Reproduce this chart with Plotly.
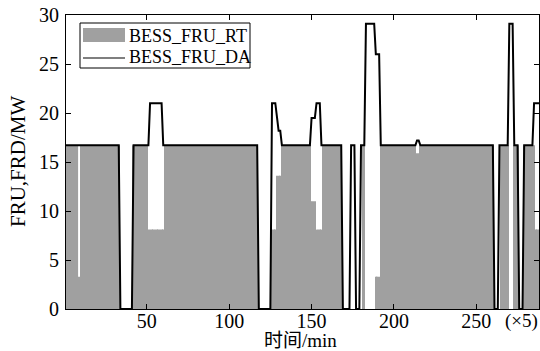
import plotly.graph_objects as go

# time index (5-min steps)
time_idx = list(range(1, 289))

# real-time FRU (bars), MW
fru_rt = [
    16.7, 16.7, 16.7, 16.7, 16.7, 16.7, 16.7, 16.7, 3.3, 16.7, 16.7, 16.7, 16.7, 16.7, 16.7, 16.7, 16.7, 16.7, 16.7, 16.7, 16.7, 16.7, 16.7, 16.7,
    16.7, 16.7, 16.7, 16.7, 16.7, 16.7, 16.7, 16.7, 16.7, 0, 0, 0, 0, 0, 0, 0, 0, 16.7, 16.7, 16.7, 16.7, 16.7, 16.7, 16.7,
    16.7, 16.7, 8.1, 8.1, 8.1, 8.1, 8.1, 8.1, 8.1, 8.1, 8.1, 8.1, 16.7, 16.7, 16.7, 16.7, 16.7, 16.7, 16.7, 16.7, 16.7, 16.7, 16.7, 16.7,
    16.7, 16.7, 16.7, 16.7, 16.7, 16.7, 16.7, 16.7, 16.7, 16.7, 16.7, 16.7, 16.7, 16.7, 16.7, 16.7, 16.7, 16.7, 16.7, 16.7, 16.7, 16.7, 16.7, 16.7,
    16.7, 16.7, 16.7, 16.7, 16.7, 16.7, 16.7, 16.7, 16.7, 16.7, 16.7, 16.7, 16.7, 16.7, 16.7, 16.7, 16.7, 16.7, 16.7, 16.7, 16.7, 0, 0, 0,
    0, 0, 0, 0, 0, 8.1, 8.1, 8.1, 13.6, 13.6, 13.6, 16.7, 16.7, 16.7, 16.7, 16.7, 16.7, 16.7, 16.7, 16.7, 16.7, 16.7, 16.7, 16.7,
    16.7, 16.7, 16.7, 16.7, 16.7, 11.0, 11.0, 11.0, 8.1, 8.1, 8.1, 8.1, 16.7, 16.7, 16.7, 16.7, 16.7, 16.7, 16.7, 16.7, 16.7, 16.7, 16.7, 16.7,
    0, 0, 0, 0, 0, 0, 0, 0, 0, 0, 0, 0, 16.7, 16.7, 0, 0, 0, 0, 0, 0, 3.3, 3.3, 3.3, 16.7,
    16.7, 16.7, 16.7, 16.7, 16.7, 16.7, 16.7, 16.7, 16.7, 16.7, 16.7, 16.7, 16.7, 16.7, 16.7, 16.7, 16.7, 16.7, 16.7, 16.7, 16.7, 15.9, 15.9, 16.7,
    16.7, 16.7, 16.7, 16.7, 16.7, 16.7, 16.7, 16.7, 16.7, 16.7, 16.7, 16.7, 16.7, 16.7, 16.7, 16.7, 16.7, 16.7, 16.7, 16.7, 16.7, 16.7, 16.7, 16.7,
    16.7, 16.7, 16.7, 16.7, 16.7, 16.7, 16.7, 16.7, 16.7, 16.7, 16.7, 16.7, 16.7, 16.7, 16.7, 16.7, 16.7, 16.7, 16.7, 16.7, 0, 0, 0, 0,
    16.7, 16.7, 16.7, 16.7, 16.7, 0, 0, 0, 16.7, 16.7, 16.7, 0, 0, 0, 16.7, 16.7, 16.7, 16.7, 16.7, 16.7, 16.7, 8.1, 8.1, 8.1,
]

# day-ahead FRU (line), MW
fru_da = [
    16.7, 16.7, 16.7, 16.7, 16.7, 16.7, 16.7, 16.7, 16.7, 16.7, 16.7, 16.7, 16.7, 16.7, 16.7, 16.7, 16.7, 16.7, 16.7, 16.7, 16.7, 16.7, 16.7, 16.7,
    16.7, 16.7, 16.7, 16.7, 16.7, 16.7, 16.7, 16.7, 16.7, 0, 0, 0, 0, 0, 0, 0, 0, 16.7, 16.7, 16.7, 16.7, 16.7, 16.7, 16.7,
    16.7, 16.7, 16.7, 21, 21, 21, 21, 21, 21, 21, 21, 16.7, 16.7, 16.7, 16.7, 16.7, 16.7, 16.7, 16.7, 16.7, 16.7, 16.7, 16.7, 16.7,
    16.7, 16.7, 16.7, 16.7, 16.7, 16.7, 16.7, 16.7, 16.7, 16.7, 16.7, 16.7, 16.7, 16.7, 16.7, 16.7, 16.7, 16.7, 16.7, 16.7, 16.7, 16.7, 16.7, 16.7,
    16.7, 16.7, 16.7, 16.7, 16.7, 16.7, 16.7, 16.7, 16.7, 16.7, 16.7, 16.7, 16.7, 16.7, 16.7, 16.7, 16.7, 16.7, 16.7, 16.7, 16.7, 0, 0, 0,
    0, 0, 0, 0, 0, 21, 21, 21, 19.6, 18.2, 18.2, 16.7, 16.7, 16.7, 16.7, 16.7, 16.7, 16.7, 16.7, 16.7, 16.7, 16.7, 16.7, 16.7,
    16.7, 16.7, 16.7, 16.7, 16.7, 19.5, 19.5, 19.5, 21, 21, 21, 16.7, 16.7, 16.7, 16.7, 16.7, 16.7, 16.7, 16.7, 16.7, 16.7, 16.7, 16.7, 16.7,
    0, 0, 0, 0, 0, 16.7, 16.7, 16.7, 0, 0, 0, 16.7, 16.7, 16.7, 29.1, 29.1, 29.1, 29.1, 29.1, 29.1, 26, 26, 26, 16.7,
    16.7, 16.7, 16.7, 16.7, 16.7, 16.7, 16.7, 16.7, 16.7, 16.7, 16.7, 16.7, 16.7, 16.7, 16.7, 16.7, 16.7, 16.7, 16.7, 16.7, 16.7, 17.2, 17.2, 16.7,
    16.7, 16.7, 16.7, 16.7, 16.7, 16.7, 16.7, 16.7, 16.7, 16.7, 16.7, 16.7, 16.7, 16.7, 16.7, 16.7, 16.7, 16.7, 16.7, 16.7, 16.7, 16.7, 16.7, 16.7,
    16.7, 16.7, 16.7, 16.7, 16.7, 16.7, 16.7, 16.7, 16.7, 16.7, 16.7, 16.7, 16.7, 16.7, 16.7, 16.7, 16.7, 16.7, 16.7, 16.7, 0, 0, 0, 16.7,
    16.7, 16.7, 16.7, 16.7, 16.7, 29.1, 29.1, 29.1, 16.7, 16.7, 16.7, 0, 0, 0, 16.7, 16.7, 16.7, 16.7, 16.7, 16.7, 21, 21, 21, 21,
]

x_ticks = [50, 100, 150, 200, 250]
y_ticks = [0, 5, 10, 15, 20, 25, 30]
legend_names = ["BESS_FRU_RT", "BESS_FRU_DA"]
x_title = "时间/min"
y_title = "FRU,FRD/MW"
x_unit_note = "(×5)"

BAR_COLOR = "#a0a0a0"
FONT = "Liberation Serif, Times New Roman, Noto Sans CJK SC, serif"

fig = go.Figure()
fig.add_trace(go.Bar(x=time_idx, y=fru_rt, marker=dict(color=BAR_COLOR, line=dict(width=0)),
                     name=legend_names[0], showlegend=False))
fig.add_trace(go.Scatter(x=time_idx, y=fru_da, mode="lines", line=dict(color="black", width=2),
                         name=legend_names[1], showlegend=False))

# plot area px: x 66..539, y 15..309
def px_x(px):
    return (px - 66) / 473.0

def px_y(py):
    return (309 - py) / 294.0

shapes = [
    dict(type="rect", xref="paper", yref="paper", x0=px_x(80), x1=px_x(250), y0=px_y(68), y1=px_y(23),
         line=dict(color="black", width=1), fillcolor="white", layer="above"),
    dict(type="rect", xref="paper", yref="paper", x0=px_x(83), x1=px_x(125), y0=px_y(42), y1=px_y(28),
         line=dict(width=0), fillcolor=BAR_COLOR, layer="above"),
    dict(type="line", xref="paper", yref="paper", x0=px_x(83), x1=px_x(125), y0=px_y(58), y1=px_y(58),
         line=dict(color="black", width=1.2), layer="above"),
]
annotations = [
    dict(xref="paper", yref="paper", x=px_x(127), y=px_y(36), text=legend_names[0], showarrow=False,
         xanchor="left", yanchor="middle", font=dict(family=FONT, size=18, color="black")),
    dict(xref="paper", yref="paper", x=px_x(127), y=px_y(57), text=legend_names[1], showarrow=False,
         xanchor="left", yanchor="middle", font=dict(family=FONT, size=18, color="black")),
    dict(xref="paper", yref="paper", x=px_x(521), y=px_y(321), text=x_unit_note, showarrow=False,
         xanchor="center", yanchor="middle", font=dict(family=FONT, size=19, color="black")),
    dict(xref="paper", yref="paper", x=px_x(300), y=px_y(341), text=x_title, showarrow=False,
         xanchor="center", yanchor="middle", font=dict(family=FONT, size=19, color="black")),
    dict(xref="paper", yref="paper", x=px_x(18), y=px_y(162), text=y_title, showarrow=False, textangle=-90,
         xanchor="center", yanchor="middle", font=dict(family=FONT, size=21, color="black")),
]

fig.update_layout(
    width=540, height=351,
    margin=dict(l=66, r=1, t=15, b=42),
    plot_bgcolor="white", paper_bgcolor="white",
    bargap=0.3,
    showlegend=False,
    font=dict(family=FONT, size=20, color="black"),
    shapes=shapes, annotations=annotations,
)
fig.update_xaxes(range=[1, 288], tickvals=x_ticks, ticks="inside", ticklen=5, tickcolor="black",
                 showline=True, linecolor="black", linewidth=1, mirror="ticks", showgrid=False, zeroline=False,
                 tickfont=dict(family=FONT, size=20), ticklabelstandoff=-6)
fig.update_yaxes(range=[0, 30], tickvals=y_ticks, ticks="inside", ticklen=5, tickcolor="black",
                 showline=True, linecolor="black", linewidth=1, mirror="ticks", showgrid=False, zeroline=False,
                 tickfont=dict(family=FONT, size=20), ticklabelstandoff=2)

fig.write_html("out.html")
